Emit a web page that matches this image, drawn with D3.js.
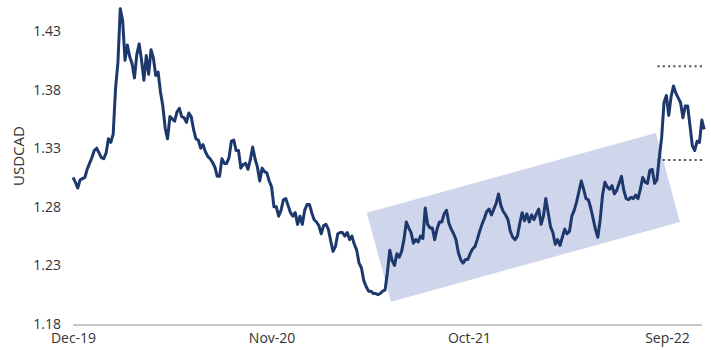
<!DOCTYPE html>
<html>
<head>
<meta charset="utf-8">
<script src="https://cdn.jsdelivr.net/npm/d3@7"></script>
<style>
  body { margin: 0; background: #fff; }
  svg, svg text { font-family: "Open Sans", sans-serif; }
  svg { display: block; }
</style>
</head>
<body>
<div class="chart"></div>
<script>
// USDCAD, one reading every 4 days from 1 Dec 2019
const startDate = new Date(2019, 11, 1);
const stepDays = 4;
const usdcad = [
  1.305, 1.301, 1.296, 1.303, 1.304, 1.305, 1.312, 1.317, 1.322, 1.328,
  1.330, 1.326, 1.322, 1.321, 1.326, 1.338, 1.335, 1.342, 1.381, 1.403,
  1.449, 1.439, 1.405, 1.418, 1.408, 1.402, 1.390, 1.410, 1.419, 1.405,
  1.388, 1.409, 1.393, 1.414, 1.407, 1.392, 1.395, 1.378, 1.366, 1.347,
  1.338, 1.357, 1.355, 1.353, 1.361, 1.364, 1.357, 1.356, 1.352, 1.360,
  1.357, 1.346, 1.338, 1.337, 1.330, 1.333, 1.327, 1.323, 1.321, 1.318,
  1.314, 1.306, 1.306, 1.321, 1.317, 1.317, 1.322, 1.336, 1.337, 1.328,
  1.328, 1.313, 1.316, 1.317, 1.312, 1.320, 1.331, 1.321, 1.314, 1.302,
  1.313, 1.310, 1.309, 1.302, 1.297, 1.280, 1.280, 1.272, 1.277, 1.286,
  1.287, 1.281, 1.275, 1.272, 1.275, 1.265, 1.272, 1.265, 1.277, 1.282,
  1.282, 1.275, 1.269, 1.267, 1.264, 1.257, 1.264, 1.265, 1.261, 1.251,
  1.242, 1.246, 1.257, 1.258, 1.258, 1.255, 1.258, 1.252, 1.255, 1.248,
  1.243, 1.232, 1.228, 1.217, 1.212, 1.208, 1.208, 1.206, 1.206, 1.205,
  1.206, 1.208, 1.209, 1.224, 1.243, 1.234, 1.230, 1.240, 1.237, 1.242,
  1.252, 1.267, 1.262, 1.258, 1.249, 1.252, 1.250, 1.255, 1.253, 1.279,
  1.265, 1.262, 1.262, 1.252, 1.261, 1.267, 1.267, 1.274, 1.277, 1.266,
  1.261, 1.257, 1.252, 1.241, 1.235, 1.232, 1.235, 1.235, 1.240, 1.244,
  1.246, 1.252, 1.259, 1.265, 1.270, 1.276, 1.278, 1.273, 1.278, 1.283,
  1.291, 1.281, 1.276, 1.273, 1.269, 1.259, 1.254, 1.252, 1.255, 1.266,
  1.275, 1.268, 1.274, 1.267, 1.273, 1.269, 1.274, 1.278, 1.265, 1.272,
  1.287, 1.275, 1.263, 1.258, 1.248, 1.252, 1.247, 1.254, 1.261, 1.257,
  1.259, 1.272, 1.277, 1.284, 1.293, 1.302, 1.295, 1.287, 1.286, 1.279,
  1.270, 1.261, 1.254, 1.269, 1.290, 1.301, 1.297, 1.295, 1.298, 1.291,
  1.294, 1.300, 1.306, 1.294, 1.287, 1.286, 1.288, 1.287, 1.290, 1.287,
  1.295, 1.305, 1.301, 1.300, 1.311, 1.312, 1.300, 1.303, 1.322, 1.339,
  1.369, 1.375, 1.358, 1.374, 1.383, 1.377, 1.373, 1.369, 1.356, 1.366,
  1.366, 1.349, 1.332, 1.328, 1.336, 1.335, 1.354, 1.346
];

// shaded upward channel (corners, clockwise from top-left)
const channelDates = ["2021-04-11", "2022-08-13", "2022-09-23", "2021-05-22"];
const channelValues = [1.275, 1.343, 1.267, 1.199];

// dotted range markers on the right
const levelValues = [1.40, 1.32];
const levelDates = ["2022-08-16", "2022-11-01"];

const yTicks = [1.18, 1.23, 1.28, 1.33, 1.38, 1.43];
const xTickDates = ["2019-12-01", "2020-11-01", "2021-10-01", "2022-09-01"];

const width = 711, height = 350;
const font = '"Open Sans", sans-serif';
const parse = d3.timeParse("%Y-%m-%d");

const data = usdcad.map((v, i) => ({ date: d3.timeDay.offset(startDate, i * stepDays), value: v }));

const x = d3.scaleTime()
  .domain([startDate, parse("2022-11-03")])
  .range([73, 704.2]);
const y = d3.scaleLinear()
  .domain([1.18, 1.43])
  .range([324, 31]);

const svg = d3.select(".chart").append("svg")
  .attr("width", width)
  .attr("height", height);

// channel
svg.append("polygon")
  .attr("points", channelDates.map((d, i) => [x(parse(d)), y(channelValues[i])].join(",")).join(" "))
  .attr("fill", "#cfd5ea");

// dotted levels
svg.selectAll("line.level")
  .data(levelValues)
  .join("line")
  .attr("class", "level")
  .attr("x1", x(parse(levelDates[0])))
  .attr("x2", x(parse(levelDates[1])))
  .attr("y1", d => y(d))
  .attr("y2", d => y(d))
  .attr("stroke", "#4a4a4a")
  .attr("stroke-width", 2)
  .attr("stroke-dasharray", "2,3.3");

// x axis
const xAxis = svg.append("g")
  .attr("transform", `translate(0,${y(1.18) + 1})`)
  .call(d3.axisBottom(x)
    .tickValues(xTickDates.map(parse))
    .tickFormat(d3.timeFormat("%b-%y"))
    .tickSize(0)
    .tickPadding(8))
  .attr("font-family", font)
  .attr("font-size", 14);
xAxis.select(".domain")
  .attr("d", `M73,0H702`)
  .attr("stroke", "#b3b3b3")
  .attr("stroke-width", 1.5);
xAxis.selectAll("text").attr("fill", "#333");

// y axis
const yAxis = svg.append("g")
  .attr("transform", "translate(73,0)")
  .call(d3.axisLeft(y)
    .tickValues(yTicks)
    .tickFormat(d3.format(".2f"))
    .tickSize(0)
    .tickPadding(12))
  .attr("font-family", font)
  .attr("font-size", 14);
yAxis.select(".domain").remove();
yAxis.selectAll("text").attr("fill", "#333");

svg.append("text")
  .attr("transform", "translate(24,156) rotate(-90)")
  .attr("text-anchor", "middle")
  .attr("fill", "#333")
  .attr("font-family", font)
  .attr("font-size", 15)
  .text("USDCAD");

// series
svg.append("path")
  .datum(data)
  .attr("fill", "none")
  .attr("stroke", "#1c386c")
  .attr("stroke-width", 3)
  .attr("stroke-linejoin", "round")
  .attr("d", d3.line().x(d => x(d.date)).y(d => y(d.value)));
</script>
</body>
</html>
